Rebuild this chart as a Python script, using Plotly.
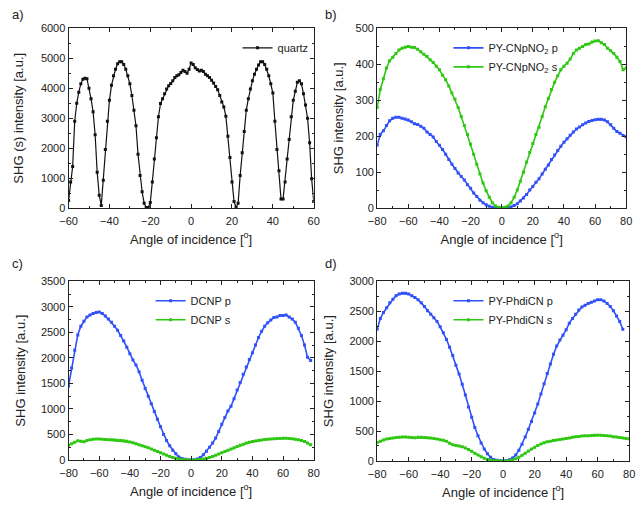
import plotly.graph_objects as go

# ---------------- data ----------------
ANG_A = list(range(-60, 61))
QUARTZ = [250, 870, 1390, 2900, 3500, 3870, 4150, 4300, 4340, 4320,
          4000, 3650, 3220, 2450, 1200, 430, 90, 930, 1960, 2900,
          3600, 4100, 4420, 4640, 4820, 4890, 4890, 4800, 4640, 4420,
          4150, 3760, 3270, 2750, 1800, 1090, 545, 165, 20, 20,
          185, 870, 1640, 2350, 3050, 3490, 3650, 3820, 3980, 4090,
          4160, 4250, 4360, 4420, 4450, 4530, 4600, 4560, 4500, 4640,
          4850, 4800, 4690, 4630, 4580, 4600, 4560, 4470, 4420, 4360,
          4270, 4180, 4060, 3950, 3760, 3540, 3380, 3070, 2400, 1690,
          870, 220, 20, 165, 1090, 1850, 2560, 3270, 3650, 3980,
          4250, 4470, 4640, 4780, 4890, 4890, 4800, 4640, 4420, 4150,
          3840, 2900, 1960, 1250, 300, 300, 870, 1640, 2290, 3050,
          3600, 3900, 4200, 4250, 4150, 3820, 3440, 3000, 2180, 980,
          220]

ANG = list(range(-80, 81, 2))

B_P = [175, 205, 215, 230, 243, 250, 253, 253, 250, 248,
       245, 240, 235, 233, 228, 222, 212, 205, 198, 185,
       175, 163, 150, 135, 122, 110, 98, 88, 78, 65,
       55, 42, 32, 22, 15, 9, 5, 2, 1, 0,
       0, 0, 1, 3, 7, 12, 20, 28, 38, 50,
       60, 72, 82, 95, 108, 120, 135, 148, 160, 172,
       183, 193, 203, 212, 220, 226, 232, 237, 241, 244,
       246, 247, 247, 245, 240, 232, 222, 213, 208, 202,
       198]
B_S = [280, 330, 360, 390, 410, 420, 430, 440, 445, 448,
       450, 448, 447, 442, 435, 428, 422, 413, 405, 395,
       385, 370, 357, 340, 320, 303, 280, 255, 230, 205,
       178, 150, 122, 95, 70, 48, 30, 15, 6, 2,
       0, 2, 6, 15, 30, 50, 75, 100, 128, 155,
       180, 205, 225, 255, 282, 305, 330, 350, 368, 385,
       395, 403, 415, 430, 440, 445, 450, 455, 457, 462,
       465, 466, 460, 455, 445, 438, 430, 420, 408, 385,
       390]

C_P = [1450, 1800, 2150, 2450, 2620, 2720, 2800, 2840, 2870, 2890,
       2900, 2870, 2820, 2760, 2700, 2620, 2540, 2440, 2330, 2210,
       2080, 1960, 1860, 1730, 1560, 1400, 1250, 1100, 950, 800,
       650, 500, 380, 280, 190, 120, 60, 30, 12, 5,
       0, 5, 20, 50, 100, 170, 250, 330, 430, 560,
       700, 830, 960, 1050, 1200, 1370, 1520, 1680, 1820, 1970,
       2100, 2250, 2400, 2520, 2620, 2690, 2740, 2790, 2800, 2830,
       2830, 2840, 2800, 2760, 2700, 2580, 2440, 2250, 2010, 1950]
C_S = [290, 320, 345, 375, 365, 355, 380, 395, 405, 410,
       410, 405, 400, 398, 395, 390, 385, 380, 375, 365,
       350, 335, 318, 300, 280, 260, 238, 215, 190, 165,
       140, 115, 92, 70, 50, 32, 18, 8, 3, 1,
       0, 1, 3, 8, 18, 32, 50, 70, 92, 115,
       140, 165, 190, 215, 240, 265, 290, 310, 330, 345,
       360, 372, 382, 392, 400, 405, 410, 415, 420, 422,
       425, 425, 422, 415, 405, 395, 380, 360, 330, 300]

D_P = [2200, 2380, 2480, 2560, 2640, 2700, 2760, 2790, 2800, 2800,
       2790, 2760, 2730, 2690, 2640, 2580, 2510, 2450, 2390, 2330,
       2240, 2140, 2030, 1900, 1760, 1600, 1450, 1280, 1100, 900,
       730, 560, 420, 300, 200, 120, 60, 25, 10, 5,
       2, 5, 20, 50, 100, 180, 280, 400, 530, 660,
       800, 950, 1120, 1290, 1460, 1620, 1780, 1920, 2020, 2100,
       2190, 2300, 2380, 2450, 2520, 2570, 2600, 2630, 2650, 2670,
       2690, 2690, 2670, 2630, 2580, 2510, 2420, 2330, 2200]
D_S = [310, 330, 350, 365, 375, 385, 390, 395, 398, 400,
       395, 390, 388, 395, 395, 390, 388, 385, 375, 365,
       355, 345, 330, 295, 270, 260, 250, 235, 215, 190,
       160, 130, 100, 70, 45, 25, 12, 5, 2, 1,
       0, 1, 5, 15, 35, 60, 95, 130, 165, 200,
       230, 260, 285, 305, 320, 330, 340, 350, 358, 365,
       375, 385, 395, 405, 410, 415, 420, 422, 425, 428,
       430, 430, 425, 420, 415, 405, 400, 392, 385, 375,
       370]

LABELS_B = ["PY-CNpNO<sub>2</sub> p", "PY-CNpNO<sub>2</sub> s"]
LABELS_C = ["DCNP p", "DCNP s"]
LABELS_D = ["PY-PhdiCN p", "PY-PhdiCN s"]

BLUE = "#3050f8"
GREEN = "#2ec812"
FONT = "Liberation Sans, Arial, sans-serif"

W, H = 641, 506

fig = go.Figure()


def add(x, y, name, color, xa, ya, legend, lw):
    fig.add_trace(go.Scatter(
        x=x[:len(y)], y=y, name=name, mode="lines+markers",
        line=dict(color=color, width=lw),
        marker=dict(symbol="square", size=3, color=color),
        xaxis=xa, yaxis=ya, legend=legend))


add(ANG_A, QUARTZ, "quartz", "#111111", "x", "y", "legend", 1.2)
add(ANG, B_P, LABELS_B[0], BLUE, "x2", "y2", "legend2", 1.6)
add(ANG, B_S, LABELS_B[1], GREEN, "x2", "y2", "legend2", 1.6)
add(ANG, C_P, LABELS_C[0], BLUE, "x3", "y3", "legend3", 1.6)
add(ANG, C_S, LABELS_C[1], GREEN, "x3", "y3", "legend3", 1.6)
add(ANG, D_P, LABELS_D[0], BLUE, "x4", "y4", "legend4", 1.6)
add(ANG, D_S, LABELS_D[1], GREEN, "x4", "y4", "legend4", 1.6)


def px_dom_x(a, b):
    return [a / W, b / W]


def px_dom_y(top, bottom):
    return [1 - bottom / H, 1 - top / H]


def xax(dom, rng, anchor, dt, minor):
    return dict(domain=dom, range=rng, anchor=anchor, dtick=dt, tick0=0,
                showgrid=False, zeroline=False, showline=True, linecolor="#222",
                linewidth=1, mirror="ticks", ticks="inside", ticklen=4,
                ticklabelstandoff=3,
                tickcolor="#222", tickfont=dict(size=11, color="#222", family=FONT),
                minor=dict(dtick=minor, ticks="inside", ticklen=2, tickcolor="#222"),
                title=dict(text="Angle of incidence [<sup>o</sup>]",
                           font=dict(size=13, color="#222", family=FONT), standoff=8))


def yax(dom, rng, anchor, dt, minor, title, standoff):
    return dict(domain=dom, range=rng, anchor=anchor, dtick=dt, tick0=0,
                showgrid=False, zeroline=False, showline=True, linecolor="#222",
                linewidth=1, mirror="ticks", ticks="inside", ticklen=4,
                tickcolor="#222", tickfont=dict(size=11, color="#222", family=FONT),
                minor=dict(dtick=minor, ticks="inside", ticklen=2, tickcolor="#222"),
                title=dict(text=title, font=dict(size=13, color="#222", family=FONT),
                           standoff=standoff))


def leg(xp, yp):
    return dict(x=xp / W, y=1 - yp / H, xanchor="left", yanchor="top",
                bgcolor="rgba(0,0,0,0)", font=dict(size=11, color="#222", family=FONT),
                itemwidth=30, tracegroupgap=0)


fig.update_layout(
    width=W, height=H, margin=dict(l=0, r=0, t=0, b=0),
    paper_bgcolor="white", plot_bgcolor="white",
    font=dict(family=FONT, color="#222"),
    xaxis=xax(px_dom_x(61, 312), [-60, 60], "y", 20, 10),
    yaxis=yax(px_dom_y(23, 207), [0, 6000], "x", 1000, 500, "SHG (s) intensity [a.u.]", 14),
    xaxis2=xax(px_dom_x(377, 632), [-80, 80], "y2", 20, 10),
    yaxis2=yax(px_dom_y(23, 207), [0, 500], "x2", 100, 50, "SHG intensity [a.u.]", 9),
    xaxis3=xax(px_dom_x(61, 312), [-80, 80], "y3", 20, 10),
    yaxis3=yax(px_dom_y(282, 465), [0, 3500], "x3", 500, 250, "SHG intensity [a.u.]", 12),
    xaxis4=xax(px_dom_x(377, 635), [-80, 80], "y4", 20, 10),
    yaxis4=yax(px_dom_y(282, 466), [0, 3000], "x4", 500, 250, "SHG intensity [a.u.]", 12),
    legend=leg(234, 28),
    legend2=leg(450, 28),
    legend3=leg(145, 287),
    legend4=leg(450, 287),
    showlegend=True,
)

for txt, xp, yp in [("a)", 1, 9), ("b)", 322, 9), ("c)", 1, 264), ("d)", 322, 264)]:
    fig.add_annotation(text=txt, x=xp / W, y=1 - yp / H, xref="paper", yref="paper",
                       xanchor="left", yanchor="middle", showarrow=False,
                       font=dict(size=13, color="#222", family=FONT))

fig.write_html("out.html")
